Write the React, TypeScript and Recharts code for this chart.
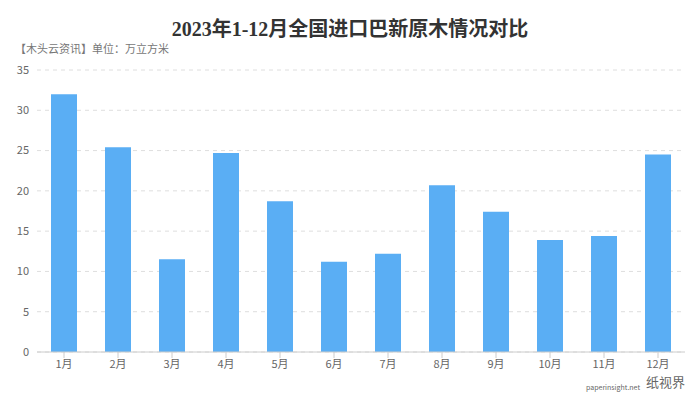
import React from "react";
import { BarChart, Bar, XAxis, YAxis, CartesianGrid } from "recharts";

const months = ["1月", "2月", "3月", "4月", "5月", "6月", "7月", "8月", "9月", "10月", "11月", "12月"];
const volumes = [32.0, 25.4, 11.5, 24.7, 18.7, 11.2, 12.2, 20.7, 17.4, 13.9, 14.4, 24.5];
const yTicks = [0, 5, 10, 15, 20, 25, 30, 35];

const data = months.map((m, i) => ({ month: m, value: volumes[i] }));

const font = "'Noto Sans CJK SC', 'Noto Sans', sans-serif";

const App: React.FC = () => {
  return (
    <div style={{ position: "fixed", left: 0, top: 0, width: 700, height: 394, background: "#fff", fontFamily: font }}>
      <div
        style={{
          position: "absolute",
          top: 13,
          width: 700,
          textAlign: "center",
          fontFamily: "'Liberation Serif', 'Noto Sans CJK SC', serif",
          fontWeight: 700,
          fontSize: 20,
          color: "#333",
        }}
      >
        2023年1-12月全国进口巴新原木情况对比
      </div>
      <div style={{ position: "absolute", top: 40, left: 15, fontSize: 11, color: "#777" }}>
        【木头云资讯】单位：万立方米
      </div>
      <BarChart width={700} height={394} data={data} margin={{ top: 70, right: 15, bottom: 12, left: 7 }}>
        <CartesianGrid vertical={false} strokeDasharray="4 4" stroke="#dedede" />
        <XAxis
          dataKey="month"
          height={30}
          tick={{ fontSize: 11, fill: "#666" }}
          tickLine={{ stroke: "#ccc" }}
          axisLine={{ stroke: "#ccc" }}
        />
        <YAxis
          width={30}
          domain={[0, 35]}
          ticks={yTicks}
          tick={{ fontSize: 11, fill: "#666" }}
          axisLine={false}
          tickLine={false}
        />
        <Bar dataKey="value" fill="#5aaef4" barSize={26} isAnimationActive={false} />
      </BarChart>
      <div style={{ position: "absolute", left: 646, top: 375, fontSize: 13, lineHeight: "13px", color: "#666" }}>纸视界</div>
      <div style={{ position: "absolute", left: 586, top: 384, fontSize: 7, lineHeight: "7px", color: "#666" }}>paperinsight.net</div>
    </div>
  );
};

export default App;
